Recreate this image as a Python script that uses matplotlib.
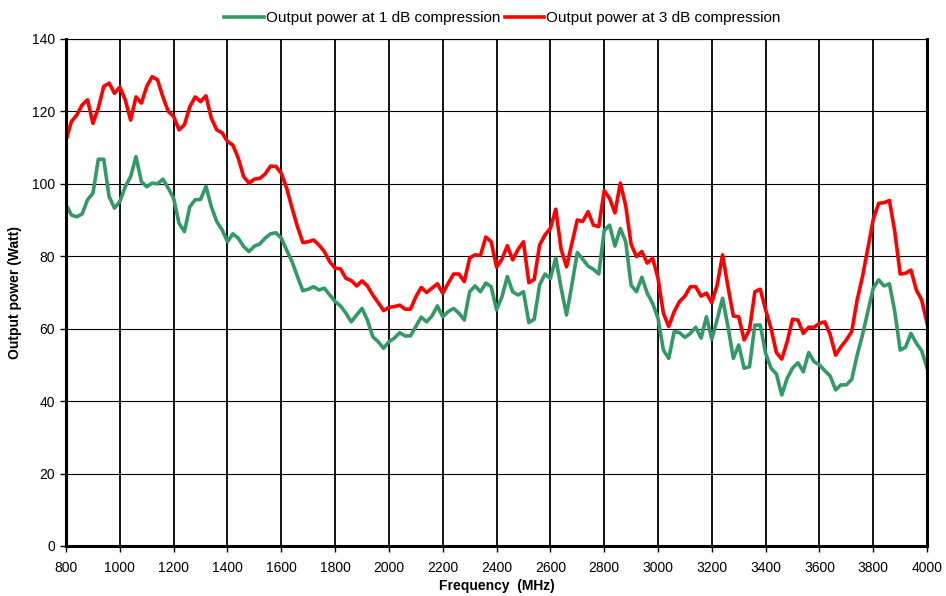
import numpy as np
import matplotlib
matplotlib.use("Agg")
import matplotlib.pyplot as plt

plt.rcParams['font.family'] = ['Liberation Sans', 'DejaVu Sans']

# frequency grid, 20 MHz steps
freq = np.arange(800, 4001, 20)

p1db = [
    94.2, 91.4, 90.9, 91.7, 95.6, 97.4, 106.8, 106.8, 96.5, 93.3,
    95.1, 99.2, 102.0, 107.5, 100.6, 99.2, 100.2, 100.0, 101.3, 98.8,
    96.0, 89.1, 86.8, 93.7, 95.6, 95.7, 99.3, 93.7, 89.6, 87.3,
    84.0, 86.2, 85.0, 82.7, 81.3, 82.8, 83.4, 85.0, 86.2, 86.5,
    85.0, 81.7, 78.5, 74.4, 70.5, 70.9, 71.6, 70.7, 71.2, 69.3,
    67.5, 66.3, 64.3, 61.9, 63.8, 65.6, 62.4, 57.8, 56.4, 54.6,
    56.4, 57.4, 58.9, 58.0, 58.0, 60.6, 63.2, 61.9, 63.5, 66.3,
    63.3, 64.7, 65.6, 64.3, 62.4, 70.2, 71.8, 70.2, 72.6, 71.6,
    65.2, 68.8, 74.4, 70.2, 69.3, 70.2, 61.7, 62.6, 72.1, 75.1,
    73.9, 79.5, 71.2, 63.8, 72.1, 81.0, 79.2, 77.3, 76.4, 75.1,
    87.1, 88.6, 82.8, 87.7, 84.0, 72.0, 70.2, 74.2, 69.8, 67.0,
    62.9, 54.1, 51.8, 59.2, 58.9, 57.6, 58.7, 60.4, 57.4, 63.3,
    57.1, 62.6, 68.4, 60.6, 51.8, 55.5, 49.1, 49.5, 61.0, 61.0,
    53.2, 49.1, 47.5, 41.7, 46.3, 49.1, 50.6, 48.1, 53.4, 50.9,
    50.0, 48.4, 46.9, 43.1, 44.5, 44.5, 46.0, 52.7, 58.3, 64.7,
    71.2, 73.5, 71.8, 72.4, 64.7, 54.1, 54.9, 58.7, 56.0, 53.9,
    49.1,
]

p3db = [
    112.0, 117.2, 119.0, 121.8, 123.2, 116.7, 120.9, 126.9, 127.8, 125.0,
    126.7, 123.2, 117.6, 124.0, 122.3, 126.9, 129.6, 128.7, 124.0, 120.0,
    118.6, 114.9, 116.3, 121.3, 124.0, 122.7, 124.3, 118.1, 114.9, 114.1,
    111.7, 110.7, 107.1, 102.0, 100.2, 101.3, 101.5, 102.7, 104.9, 104.8,
    102.9, 98.8, 93.3, 88.2, 83.8, 84.0, 84.5, 83.1, 81.3, 78.5,
    76.7, 76.5, 73.9, 73.3, 71.8, 73.2, 71.8, 69.3, 67.2, 65.0,
    65.9, 66.1, 66.5, 65.4, 65.4, 68.8, 71.4, 70.0, 71.2, 72.4,
    69.8, 72.5, 75.1, 75.1, 73.0, 79.5, 80.4, 80.2, 85.3, 84.0,
    77.0, 79.2, 82.9, 79.0, 81.9, 84.0, 72.7, 73.6, 83.1, 85.9,
    87.7, 93.0, 81.9, 77.1, 83.6, 90.0, 89.6, 92.3, 88.6, 88.2,
    98.1, 96.0, 92.0, 100.2, 94.0, 83.3, 79.9, 81.3, 78.1, 79.5,
    73.9, 64.3, 60.6, 64.7, 67.5, 69.0, 71.6, 71.6, 69.0, 69.8,
    67.2, 72.1, 80.4, 71.6, 63.5, 63.3, 56.9, 59.7, 70.2, 70.9,
    65.2, 60.1, 53.4, 51.6, 56.4, 62.6, 62.4, 58.7, 60.4, 60.4,
    61.5, 61.9, 58.3, 52.7, 55.0, 56.9, 59.2, 67.9, 74.4, 82.2,
    90.2, 94.6, 94.8, 95.4, 86.8, 75.1, 75.3, 76.2, 70.7, 67.9,
    61.5,
]

fig = plt.figure(figsize=(9.46, 5.96), dpi=100)
ax = fig.add_axes([0.0698, 0.0839, 0.9102, 0.8507])

ax.plot(freq, p1db, color='#339966', lw=2.6, label='Output power at 1 dB compression')
ax.plot(freq, p3db, color='#ff0000', lw=2.6, label='Output power at 3 dB compression')

ax.set_xlim(800, 4000)
ax.set_ylim(0, 140)
ax.set_xticks(np.arange(800, 4001, 200))
ax.set_yticks(np.arange(0, 141, 20))
ax.xaxis.grid(True, color='black', lw=1.3)
ax.yaxis.grid(True, color='black', lw=0.8)
ax.set_axisbelow(True)

for s in ['left', 'bottom', 'right']:
    ax.spines[s].set_linewidth(2.2)
ax.spines['top'].set_linewidth(0.8)
ax.tick_params(axis='both', labelsize=10, direction='out', length=4, width=1, color='black')
ax.tick_params(axis='x', pad=7)
ax.tick_params(axis='y', pad=4)

ax.set_xlabel('Frequency  (MHz)', fontsize=10, fontweight='bold', labelpad=3)
ax.set_ylabel('Output power (Watt)', fontsize=10, fontweight='bold', labelpad=7)

fig.legend(*ax.get_legend_handles_labels(), loc='center', bbox_to_anchor=(0.531, 0.970),
           ncol=2, frameon=False, fontsize=11, handlelength=2.6, handletextpad=0.1,
           columnspacing=0.3, borderaxespad=0.0)

fig.savefig('out.png', dpi=100)
